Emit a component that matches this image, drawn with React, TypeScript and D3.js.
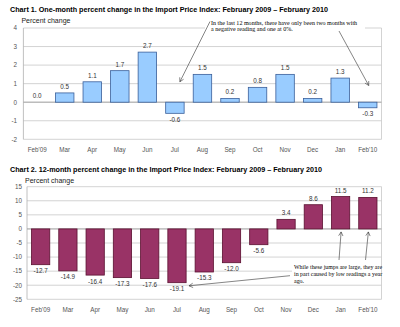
import React from 'react';
import * as d3 from 'd3';

const months = ["Feb'09", 'Mar', 'Apr', 'May', 'Jun', 'Jul', 'Aug', 'Sep', 'Oct', 'Nov', 'Dec', 'Jan', "Feb'10"];
const oneMonth = [0.0, 0.5, 1.1, 1.7, 2.7, -0.6, 1.5, 0.2, 0.8, 1.5, 0.2, 1.3, -0.3];
const twelveMonth = [-12.7, -14.9, -16.4, -17.3, -17.6, -19.1, -15.3, -12.0, -5.6, 3.4, 8.6, 11.5, 11.2];
const ticks1 = [4, 3, 2, 1, 0, -1, -2];
const ticks2 = [15, 10, 5, 0, -5, -10, -15, -20, -25];
const title1 = 'Chart 1. One-month percent change in the Import Price Index: February 2009 \u2013 February 2010';
const title2 = 'Chart 2. 12-month percent change in the Import Price Index: February 2009 \u2013 February 2010';
const note1 = ['In the last 12 months, there have only been two months with', 'a negative reading and one at 0%.'];
const note2 = ['While these jumps are large, they are', 'in part caused by low readings a year', 'ago.'];

const SANS = '"Liberation Sans", Arial, sans-serif';
const SERIF = '"Liberation Serif", "Times New Roman", serif';

function Arrow({ x1, y1, x2, y2 }: { x1: number; y1: number; x2: number; y2: number }) {
  const a = Math.atan2(y2 - y1, x2 - x1);
  const L = 4.5;
  const s = 0.5;
  const p1 = [x2 - L * Math.cos(a - s), y2 - L * Math.sin(a - s)];
  const p2 = [x2 - L * Math.cos(a + s), y2 - L * Math.sin(a + s)];
  return (
    <g stroke="#333" strokeWidth={0.6} fill="none">
      <line x1={x1} y1={y1} x2={x2} y2={y2} />
      <path d={`M${p1[0]},${p1[1]}L${x2},${y2}L${p2[0]},${p2[1]}`} />
    </g>
  );
}

function Chart({
  values, ticks, yDomain, yRange, xRange, title, titleY, fill, stroke, fmt, tickX, labelY,
}: any) {
  const x = d3.scaleBand<string>().domain(months).range(xRange).paddingInner(0.33).paddingOuter(0.165);
  const y = d3.scaleLinear().domain(yDomain).range(yRange);
  const bw = x.bandwidth();
  return (
    <g>
      <text x={10} y={titleY} fontFamily={SANS} fontWeight="bold" fontSize={7.2} fill="#000">{title}</text>
      <text x={xRange[0] - 2} y={titleY + 10.5} fontFamily={SANS} fontSize={7} fill="#222">Percent change</text>
      {ticks.map((t: number) => (
        <g key={t}>
          <line x1={xRange[0]} x2={xRange[1]} y1={y(t)} y2={y(t)} stroke="#c8c8c8" strokeWidth={0.8} />
          <text x={tickX} y={y(t) + 2.3} textAnchor="end" fontFamily={SANS} fontSize={6.3} fill="#555">{t}</text>
        </g>
      ))}
      <line x1={xRange[0]} x2={xRange[0]} y1={yRange[1]} y2={yRange[0]} stroke="#b0b0b0" strokeWidth={0.8} />
      <line x1={xRange[1]} x2={xRange[1]} y1={yRange[1]} y2={yRange[0]} stroke="#c8c8c8" strokeWidth={0.8} />
      <line x1={xRange[0]} x2={xRange[1]} y1={y(0)} y2={y(0)} stroke="#a0a0a0" strokeWidth={0.8} />
      {values.map((v: number, i: number) => {
        const m = months[i];
        const x0 = x(m)!;
        const top = Math.min(y(v), y(0));
        const h = Math.abs(y(v) - y(0));
        return (
          <g key={m}>
            {h > 0.1 && <rect x={x0} y={top} width={bw} height={h} fill={fill} stroke={stroke} strokeWidth={0.8} />}
            <text x={x0 + bw / 2} y={v >= 0 ? y(v) - 4 : y(v) + 8.5} textAnchor="middle" fontFamily={SANS} fontSize={6.3} fill="#333">
              {fmt(v)}
            </text>
            <text x={x0 + bw / 2} y={labelY} textAnchor="middle" fontFamily={SANS} fontSize={6.3} fill="#555">{m}</text>
          </g>
        );
      })}
    </g>
  );
}

export default function App() {
  const x1 = d3.scaleBand<string>().domain(months).range([23.4, 381.5]).paddingInner(0.33).paddingOuter(0.165);
  const y1 = d3.scaleLinear().domain([4, -2]).range([28, 139.3]);
  const x2 = d3.scaleBand<string>().domain(months).range([27, 381.5]).paddingInner(0.33).paddingOuter(0.165);
  const y2 = d3.scaleLinear().domain([15, -25]).range([186.7, 299.3]);
  const c1 = (m: string) => x1(m)! + x1.bandwidth() / 2;
  const c2 = (m: string) => x2(m)! + x2.bandwidth() / 2;
  const fmt = (v: number) => v.toFixed(1);
  return (
    <svg width={400} height={327} style={{ position: 'absolute', left: 0, top: 0, background: '#fff' }}>
      <rect width={400} height={327} fill="#fff" />
      <Chart values={oneMonth} ticks={ticks1} yDomain={[4, -2]} yRange={[28, 139.3]} xRange={[23.4, 381.5]}
        title={title1} titleY={12} fill="#99ccff" stroke="#3a5f9a" fmt={fmt} tickX={17} labelY={151.5} />
      <Chart values={twelveMonth} ticks={ticks2} yDomain={[15, -25]} yRange={[186.7, 299.3]} xRange={[27, 381.5]}
        title={title2} titleY={172} fill="#993366" stroke="#5a1030" fmt={fmt} tickX={22} labelY={311.5} />

      <rect x={205} y={17} width={160} height={16} fill="#fff" />
      {note1.map((t, i) => (
        <text key={i} x={211} y={24.5 + i * 6.8} fontFamily={SERIF} fontSize={6.05} fill="#000">{t}</text>
      ))}
      <Arrow x1={210} y1={21.5} x2={c1('Jul') + 5} y2={y1(1.1)} />
      <Arrow x1={339} y1={31} x2={c1("Feb'10") + 1} y2={y1(0.9)} />

      <rect x={292} y={262} width={89} height={22} fill="#fff" />
      {note2.map((t, i) => (
        <text key={i} x={294} y={268.5 + i * 7} fontFamily={SERIF} fontSize={5.95} fill="#000">{t}</text>
      ))}
      <Arrow x1={339} y1={260} x2={c2('Jan') + 0.5} y2={y2(0) + 3} />
      <Arrow x1={365.5} y1={260} x2={c2("Feb'10") + 0.5} y2={y2(0) + 3} />
      <Arrow x1={290} y1={275.7} x2={c2('Jul') + 12} y2={y2(-20.2)} />
    </svg>
  );
}
